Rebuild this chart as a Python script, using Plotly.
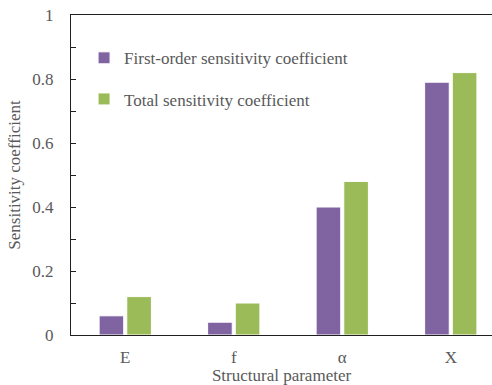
import plotly.graph_objects as go

categories = ["E", "f", "α", "X"]
first_order = [0.06, 0.04, 0.40, 0.79]
total = [0.12, 0.10, 0.48, 0.82]
series_names = ["First-order sensitivity coefficient", "Total sensitivity coefficient"]

FONT = "Liberation Serif, Times New Roman, serif"
GRAY = "#595959"

fig = go.Figure()
fig.add_trace(go.Bar(x=categories, y=first_order, name=series_names[0],
                     marker=dict(color="#8064A2", line=dict(color="white", width=1)),
                     legendgroup="a"))
fig.add_trace(go.Bar(x=categories, y=total, name=series_names[1],
                     marker=dict(color="#9BBB59", line=dict(color="white", width=1)),
                     legendgroup="b"))

fig.update_layout(
    width=492, height=385,
    margin=dict(l=71, r=0, t=15, b=50),
    plot_bgcolor="white", paper_bgcolor="white",
    barmode="group", bargap=0.49, bargroupgap=0.11,
    font=dict(family=FONT, size=17, color=GRAY),
    legend=dict(x=0.031, y=0.921, xanchor="left", yanchor="top",
                bgcolor="rgba(0,0,0,0)", font=dict(size=17, color=GRAY),
                tracegroupgap=16, traceorder="grouped", itemwidth=30),
    xaxis=dict(range=[-0.5, 3.38], showline=True, linecolor="#202020", linewidth=1,
               mirror=True, ticks="", showgrid=False, zeroline=False,
               ticklabelstandoff=7,
               title=dict(text="Structural parameter", standoff=2,
                          font=dict(size=17, color=GRAY)),
               tickfont=dict(size=17, color=GRAY)),
    yaxis=dict(range=[0, 1], dtick=0.2, showline=True, linecolor="#202020", linewidth=1,
               ticks="inside", ticklen=5, tickcolor="#202020",
               minor=dict(dtick=0.1, ticks="inside", ticklen=5, tickcolor="#202020"),
               showgrid=False, zeroline=False, ticklabelstandoff=13,
               title=dict(text="Sensitivity coefficient", standoff=7,
                          font=dict(size=17, color=GRAY)),
               tickfont=dict(size=17, color=GRAY)),
)

fig.write_html("out.html")
